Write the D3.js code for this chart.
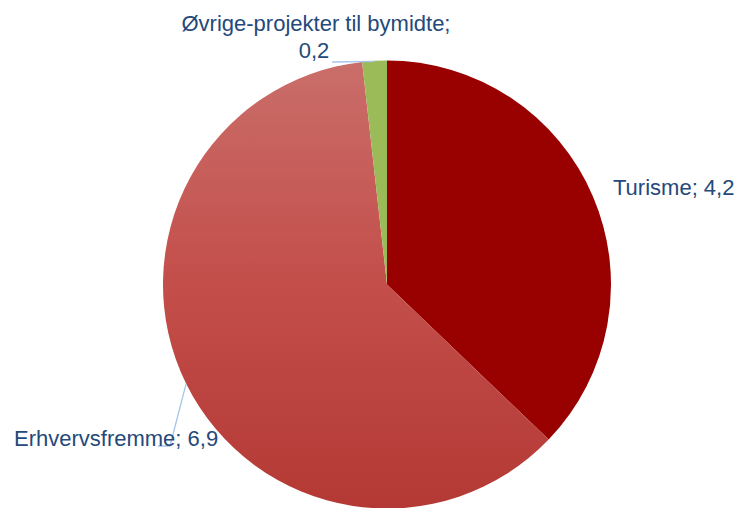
<!DOCTYPE html>
<html>
<head>
<meta charset="utf-8">
<script src="https://cdn.jsdelivr.net/npm/d3@7"></script>
<style>
  html, body { margin: 0; padding: 0; background: #fff; }
  svg { display: block; }
  .lbl { font-family: "Liberation Sans", Arial, sans-serif; font-size: 22px; fill: #25497a; }
</style>
</head>
<body>
<svg id="chart"></svg>
<script>
const categories = ["Turisme", "Erhvervsfremme", "Øvrige-projekter til bymidte"];
const values = [4.2, 6.9, 0.2];
const valueLabels = ["4,2", "6,9", "0,2"];

const width = 734, height = 508;
const cx = 387, cy = 284.5, radius = 224;

const svg = d3.select("#chart").attr("width", width).attr("height", height);

// gradient lives in the pie group's coordinates (centre = 0,0)
const defs = svg.append("defs");
const grad = defs.append("linearGradient")
    .attr("id", "erhvGrad")
    .attr("gradientUnits", "userSpaceOnUse")
    .attr("x1", 0).attr("y1", -radius)
    .attr("x2", 0).attr("y2", radius);
grad.append("stop").attr("offset", "0%").attr("stop-color", "#ca6e6a");
grad.append("stop").attr("offset", "50%").attr("stop-color", "#c34e4a");
grad.append("stop").attr("offset", "100%").attr("stop-color", "#b43935");

const colors = ["#990000", "url(#erhvGrad)", "#9bbb59"];

const data = categories.map((c, i) => ({ name: c, value: values[i], label: valueLabels[i], color: colors[i] }));

const pie = d3.pie().sort(null).value(d => d.value);
const arc = d3.arc().innerRadius(0).outerRadius(radius);

const g = svg.append("g").attr("transform", `translate(${cx},${cy})`);

const arcs = pie(data);

g.selectAll("path.slice")
    .data(arcs)
    .join("path")
    .attr("class", "slice")
    .attr("d", arc)
    .attr("fill", d => d.data.color);

// leader lines
const edgePoint = a => {
    const ang = (a.startAngle + a.endAngle) / 2;
    return [cx + Math.sin(ang) * radius, cy - Math.cos(ang) * radius];
};
const leader = svg.append("g")
    .attr("fill", "none")
    .attr("stroke", "#a7c4e8")
    .attr("stroke-width", 1.3);

// Erhvervsfremme
leader.append("polyline")
    .attr("points", [[158, 446], [170, 446], edgePoint(arcs[1])].map(q => q.join(",")).join(" "));

// Øvrige
{
    const p = edgePoint(arcs[2]);
    leader.append("polyline")
        .attr("points", [[332, 62], [p[0], p[1] + 0.5]].map(q => q.join(",")).join(" "));
}

// labels
svg.append("text").attr("class", "lbl")
    .attr("x", 613).attr("y", 195)
    .text(`${data[0].name}; ${data[0].label}`);

svg.append("text").attr("class", "lbl")
    .attr("x", 14).attr("y", 446)
    .text(`${data[1].name}; ${data[1].label}`);

const ov = svg.append("text").attr("class", "lbl").attr("text-anchor", "middle");
ov.append("tspan").attr("x", 316).attr("y", 31).text(`${data[2].name};`);
ov.append("tspan").attr("x", 314).attr("y", 58).text(data[2].label);
</script>
</body>
</html>
